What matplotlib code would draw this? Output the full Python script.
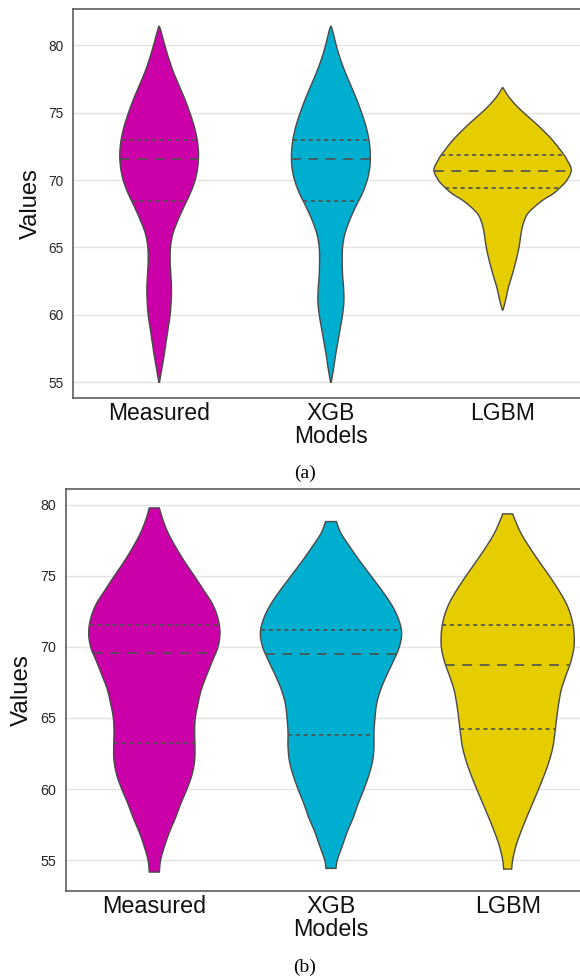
import numpy as np
import matplotlib
matplotlib.use("Agg")
import matplotlib.pyplot as plt

plt.rcParams['font.family'] = ['Liberation Sans', 'DejaVu Sans']
plt.rcParams['lines.scale_dashes'] = False

categories = ["Measured", "XGB", "LGBM"]
colors = ["#CC00A8", "#00AFCF", "#E6CD00"]
yticks = [55, 60, 65, 70, 75, 80]

# ---- panel (a): density profiles (value levels, relative half-widths) ----
a_meas_y = [55.0, 56, 57, 58, 59, 60, 61, 62, 63, 64, 65, 66, 67, 68, 69, 70, 71, 72, 73, 74, 75, 76, 77, 78, 79, 80, 81, 81.4]
a_meas_w = [1, 8, 15, 21, 27, 33, 36, 37, 35, 33, 34, 41, 56, 74, 93, 108, 116, 118, 114, 105, 92, 77, 60, 43, 29, 17, 6, 1]
a_xgb_y = [55.0, 56, 57, 58, 59, 60, 61, 62, 63, 64, 65, 66, 67, 68, 69, 70, 71, 72, 73, 74, 75, 76, 77, 78, 79, 80, 81, 81.4]
a_xgb_w = [1, 8, 14, 21, 28, 35, 39, 38, 35, 34, 35, 42, 56, 74, 94, 109, 117, 118, 114, 105, 92, 77, 60, 43, 28, 16, 6, 1]
a_lgbm_y = [60.36, 61, 62, 62.34, 63, 64, 65, 66, 66.5, 67, 67.5, 68, 68.5, 69, 69.5, 70, 70.75, 71.5, 72, 73, 74, 75, 75.5, 76, 76.4, 76.85]
a_lgbm_w = [1, 8, 17, 21, 29, 40, 49, 55, 59, 65, 75, 95, 120, 152, 175, 193, 206, 193, 180, 148, 108, 63, 42, 24, 12, 1]
a_quart = [[68.45, 71.55, 72.97], [68.45, 71.55, 72.97], [69.44, 70.65, 71.86]]

# ---- panel (b) ----
b_meas_y = [54.15, 55, 56, 57, 58, 59, 60, 61, 62, 63, 64, 65, 66, 67, 68, 69, 70, 71, 72, 73, 74, 75, 76, 77, 78, 79, 79.79]
b_meas_w = [15, 19, 31, 46, 64, 80, 98, 113, 121, 122, 121, 123, 131, 141, 157, 174, 191, 197, 191, 175, 148, 120, 91, 65, 42, 25, 15]
b_xgb_y = [54.41, 55, 56, 57, 58, 59, 60, 61, 62, 63, 64, 65, 66, 67, 68, 69, 70, 71, 72, 73, 74, 75, 76, 77, 78, 78.83]
b_xgb_w = [15, 19, 34, 49, 67, 82, 99, 114, 125, 129, 129, 132, 137, 149, 167, 187, 205, 212, 202, 181, 152, 120, 88, 58, 30, 16]
b_lgbm_y = [54.36, 55, 56, 57, 58, 59, 60, 61, 62, 63, 64, 65, 66, 67, 68, 69, 70, 71, 72, 73, 74, 75, 76, 77, 78, 79, 79.37]
b_lgbm_w = [12, 15, 25, 40, 57, 75, 93, 110, 125, 136, 142, 147, 153, 161, 175, 190, 199, 199, 192, 177, 153, 125, 95, 66, 40, 21, 15]
b_quart = [[63.24, 69.58, 71.53], [63.8, 69.51, 71.17], [64.2, 68.76, 71.53]]


def smooth(y, w, n=10):
    pts = np.column_stack([y, w]).astype(float)
    P = np.vstack([2 * pts[0] - pts[1], pts, 2 * pts[-1] - pts[-2]])
    out = []
    t = np.linspace(0, 1, n, endpoint=False)[:, None]
    for i in range(1, len(P) - 2):
        p0, p1, p2, p3 = P[i - 1], P[i], P[i + 1], P[i + 2]
        seg = 0.5 * ((2 * p1) + (-p0 + p2) * t + (2 * p0 - 5 * p1 + 4 * p2 - p3) * t ** 2
                     + (-p0 + 3 * p1 - 3 * p2 + p3) * t ** 3)
        out.append(seg)
    out.append(pts[-1:])
    s = np.vstack(out)
    s[:, 1] = np.clip(s[:, 1], 0, None)
    return s[:, 0], s[:, 1]


def draw_panel(ax, profiles, quarts, ylim, tick_fs, lab_fs, ytick_fs, label_x):
    wmax = max(max(w) for _, w in profiles)
    scale = 0.4 / wmax
    for i, ((ys, ws), q, c) in enumerate(zip(profiles, quarts, colors)):
        sy, sw = smooth(ys, ws)
        half = sw * scale
        xs = np.concatenate([i - half, (i + half)[::-1]])
        yy = np.concatenate([sy, sy[::-1]])
        ax.fill(xs, yy, facecolor=c, edgecolor="#4a4a4a", linewidth=1.0, zorder=2)
        for k, qv in enumerate(q):
            hw = np.interp(qv, sy, half)
            if k == 1:
                ls = (0, (7.0, 5.5))
            else:
                ls = (0, (3.0, 2.6))
            ax.plot([i - hw, i + hw], [qv, qv], color="#505050", lw=1.2, ls=ls, zorder=3)
    ax.set_xlim(-0.5, 2.5)
    ax.set_ylim(*ylim)
    ax.set_yticks(yticks)
    ax.set_yticklabels([str(v) for v in yticks], fontsize=ytick_fs, color="#262626")
    ax.set_xticks(range(len(categories)))
    ax.set_xticklabels(categories, fontsize=tick_fs, color="#111111")
    ax.tick_params(axis='both', length=0)
    ax.tick_params(axis='y', pad=6.8)
    ax.tick_params(axis='x', pad=3.0)
    ax.grid(axis='y', color="#e3e3e3", linewidth=1.0, zorder=0)
    ax.set_axisbelow(True)
    for sp in ax.spines.values():
        sp.set_color("#505050")
        sp.set_linewidth(1.1)
    ax.set_xlabel("Models", fontsize=lab_fs, labelpad=0, color="#111111")
    ax.set_ylabel("Values", fontsize=lab_fs + 0.6, color="#111111")
    ax.yaxis.set_label_coords(label_x, 0.5)


fig = plt.figure(figsize=(5.8, 9.8), dpi=100)
W, H = 580.0, 980.0
ax1 = fig.add_axes([73.3 / W, 1 - 398.3 / H, 515.2 / W, (398.3 - 9) / H])
ax2 = fig.add_axes([66 / W, 1 - 890.7 / H, 530 / W, (890.7 - 489.3) / H])

draw_panel(ax1, [(a_meas_y, a_meas_w), (a_xgb_y, a_xgb_w), (a_lgbm_y, a_lgbm_w)], a_quart,
           (53.81, 82.69), 16.5, 16.5, 9.8, -0.061)
draw_panel(ax2, [(b_meas_y, b_meas_w), (b_xgb_y, b_xgb_w), (b_lgbm_y, b_lgbm_w)], b_quart,
           (52.84, 81.1), 16.8, 16.8, 10.3, -0.062)

fig.text(305 / W, 1 - 473 / H, "(a)", ha='center', va='center', fontsize=14,
         family=['Liberation Serif', 'DejaVu Serif'])
fig.text(305 / W, 1 - 967 / H, "(b)", ha='center', va='center', fontsize=14,
         family=['Liberation Serif', 'DejaVu Serif'])

fig.savefig("out.png", dpi=100)
